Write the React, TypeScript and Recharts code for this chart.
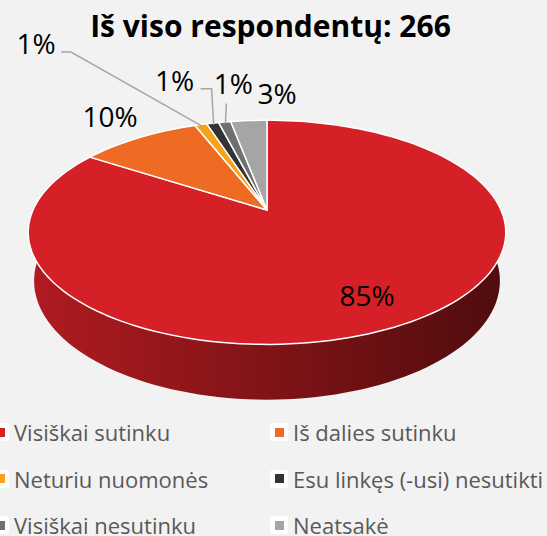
import { PieChart, Pie, Cell, Legend } from 'recharts';

const categories = [
  'Visiškai sutinku',
  'Iš dalies sutinku',
  'Neturiu nuomonės',
  'Esu linkęs (-usi) nesutikti',
  'Visiškai nesutinku',
  'Neatsakė',
];
const shares = [85, 10, 1, 1, 1, 3];
const colors = ['#d52027', '#ef6a23', '#f7a21b', '#333333', '#707070', '#a6a5a5'];
const totalRespondents = 266;

const data = categories.map((name, i) => ({ name, value: shares[i] }));

// camera used to fake the excel 3d pie (radius = 1)
const VIEW_DIST = 4.46;
const SIN_T = 0.46;
const COS_T = 0.888;
const THICKNESS = 0.235;

// label placement relative to the rim point of each slice
const labelShift = [[-32, -27], [-31, -23], [-166, -83], [-39, -45], [8, -40], [28, -29]];
const leaders: (number[][] | null)[] = [null, null, [[25, 9], [35, 9]], [[26, 9], [37, 9]], [[-7, 20]], null];

function project(cx: number, cy: number, r: number, angle: number, y = 0, frac = 1) {
  const a = (angle * Math.PI) / 180;
  const X = Math.cos(a) * frac;
  const Z = Math.sin(a) * frac;
  const depth = VIEW_DIST + Z * COS_T - y * SIN_T;
  return {
    x: cx + (r * VIEW_DIST * X) / depth,
    y: cy - (r * VIEW_DIST * (y * COS_T + Z * SIN_T)) / depth,
  };
}

function arc(cx: number, cy: number, r: number, a1: number, a2: number, y = 0) {
  const n = Math.max(2, Math.ceil(Math.abs(a2 - a1) / 2));
  const pts = [];
  for (let k = 0; k <= n; k++) pts.push(project(cx, cy, r, a1 + ((a2 - a1) * k) / n, y));
  return pts;
}

const toPath = (pts: { x: number; y: number }[]) =>
  pts.map((p, i) => `${i ? 'L' : 'M'}${p.x.toFixed(2)},${p.y.toFixed(2)}`).join(' ');

function shade(hex: string, f: number) {
  const n = parseInt(hex.slice(1), 16);
  const c = [(n >> 16) & 255, (n >> 8) & 255, n & 255].map((v) => Math.round(v * f));
  return `rgb(${c.join(',')})`;
}

const TopFace = (props: any) => {
  const { cx, cy, outerRadius, startAngle, endAngle, fill } = props;
  const pts = [{ x: cx, y: cy }, ...arc(cx, cy, outerRadius, startAngle, endAngle)];
  return <path d={toPath(pts) + ' Z'} fill={fill} stroke="#ffffff" strokeWidth={1.5} strokeLinejoin="round" />;
};

const SideFace = (props: any) => {
  const { cx, cy, outerRadius, startAngle, endAngle, fill } = props;
  const lo = Math.min(startAngle, endAngle);
  const hi = Math.max(startAngle, endAngle);
  const paths: string[] = [];
  for (let k = -2; k <= 1; k++) {
    const a = Math.max(lo, 176 + 360 * k);
    const b = Math.min(hi, 364 + 360 * k);
    if (b <= a) continue;
    const top = arc(cx, cy, outerRadius, a, b);
    const bottom = arc(cx, cy, outerRadius, b, a, -THICKNESS);
    paths.push(toPath([...top, ...bottom]) + ' Z');
  }
  return (
    <g>
      {paths.map((d, i) => (
        <path key={i} d={d} fill={fill} stroke="none" />
      ))}
    </g>
  );
};

const renderLabel = (props: any) => {
  const { cx, cy, outerRadius, midAngle, index, value } = props;
  const rim = project(cx, cy, outerRadius, midAngle, 0, 0.98);
  const tx = rim.x + labelShift[index][0];
  const ty = rim.y + labelShift[index][1];
  const lead = leaders[index];
  return (
    <g key={`lbl-${index}`}>
      {lead && (
        <polyline
          points={[...lead.map(([dx, dy]) => `${tx + dx},${ty + dy}`), `${rim.x},${rim.y}`].join(' ')}
          fill="none"
          stroke="#a6a6a6"
          strokeWidth={1.5}
        />
      )}
      <text
        x={tx}
        y={ty}
        textAnchor="middle"
        dominantBaseline="central"
        fontFamily="'Open Sans', sans-serif"
        fontSize={28}
        fill="#000000"
      >
        {`${value}%`}
      </text>
    </g>
  );
};

const renderLegend = () => (
  <div
    style={{
      display: 'grid',
      gridTemplateColumns: '279px 279px',
      fontFamily: "'Open Sans', sans-serif",
      fontSize: 22,
      color: '#595959',
    }}
  >
    {categories.map((name, i) => (
      <div key={name} style={{ display: 'flex', alignItems: 'center', height: 46.5, whiteSpace: 'nowrap' }}>
        <span
          style={{
            width: 18,
            height: 18,
            background: '#ffffff',
            borderRadius: 3,
            display: 'flex',
            alignItems: 'center',
            justifyContent: 'center',
            marginRight: 5,
            flex: 'none',
          }}
        >
          <span style={{ width: 9, height: 9, background: colors[i] }} />
        </span>
        {name}
      </div>
    ))}
  </div>
);

export default function App() {
  return (
    <div
      style={{
        position: 'absolute',
        left: 0,
        top: 0,
        width: 547,
        height: 536,
        background: '#f2f2f2',
        overflow: 'hidden',
      }}
    >
      <div
        style={{
          position: 'absolute',
          left: 0,
          top: 5,
          width: 541,
          textAlign: 'center',
          fontFamily: "'Open Sans', sans-serif",
          fontWeight: 700,
          fontSize: 30,
          color: '#000000',
        }}
      >
        Iš viso respondentų: {totalRespondents}
      </div>
      <PieChart
        width={547}
        height={536}
        margin={{ top: 0, right: 0, bottom: 0, left: 0 }}
        style={{ position: 'absolute', left: 0, top: 0 }}
      >
        <defs>
          {colors.map((c, i) => (
            <linearGradient key={i} id={`side-${i}`} x1="0" y1="0" x2="1" y2="0">
              <stop offset="0%" stopColor={shade(c, 0.83)} />
              <stop offset="100%" stopColor={shade(c, 0.37)} />
            </linearGradient>
          ))}
        </defs>
        <Pie
          data={data}
          dataKey="value"
          nameKey="name"
          cx={267}
          cy={210}
          outerRadius={234}
          startAngle={90}
          endAngle={-270}
          isAnimationActive={false}
          legendType="none"
          shape={SideFace}
          label={false}
          labelLine={false}
          stroke="none"
        >
          {data.map((d, i) => (
            <Cell key={d.name} fill={`url(#side-${i})`} />
          ))}
        </Pie>
        <Pie
          data={data}
          dataKey="value"
          nameKey="name"
          cx={267}
          cy={210}
          outerRadius={234}
          startAngle={90}
          endAngle={-270}
          isAnimationActive={false}
          shape={TopFace}
          label={renderLabel}
          labelLine={false}
        >
          {data.map((d, i) => (
            <Cell key={d.name} fill={colors[i]} />
          ))}
        </Pie>
        <Legend
          content={renderLegend}
          wrapperStyle={{ position: 'absolute', left: -9, top: 409, width: 560, bottom: 'auto' }}
        />
      </PieChart>
    </div>
  );
}
